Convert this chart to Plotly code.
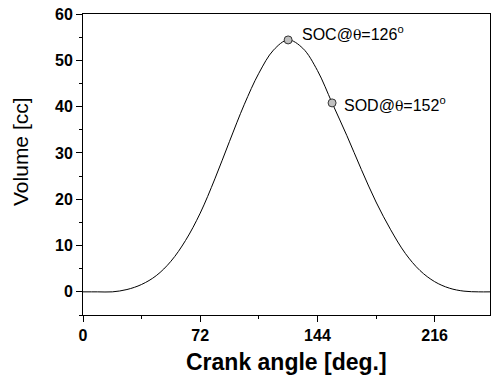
import plotly.graph_objects as go

theta = [0, 9, 18, 27, 36, 45, 54, 63, 72, 81, 90, 99, 108, 117, 126, 135, 144, 153,
         162, 171, 180, 189, 198, 207, 216, 225, 234, 243, 250]
volume = [0, 0, 0, 0.5, 1.6, 3.5, 6.6, 11.1, 17.0, 24.4, 32.5, 40.4, 47.2, 52.2, 54.4,
          52.6, 47.8, 40.8, 33.8, 26.4, 19.4, 13.4, 8.3, 4.6, 2.2, 0.8, 0.15, 0, 0]

event_theta = [126, 153]
event_volume = [54.4, 40.8]
event_names = ["SOC", "SOD"]
event_angles = [126, 152]

x_ticks = [0, 72, 144, 216]
y_ticks = [0, 10, 20, 30, 40, 50, 60]

FONT = "Liberation Sans, Arial"

fig = go.Figure()
fig.add_trace(go.Scatter(x=theta, y=volume, mode="lines",
                         line=dict(color="black", width=1, shape="spline", smoothing=1.0),
                         hoverinfo="skip"))
fig.add_trace(go.Scatter(x=event_theta, y=event_volume, mode="markers",
                         marker=dict(size=8, color="#c0c0c0", line=dict(color="#333333", width=1))))

shifts = [(12, 7), (10, -1)]
for xv, yv, nm, ang, (dx, dy) in zip(event_theta, event_volume, event_names, event_angles, shifts):
    lab = (f"{nm}@<span style='font-family:\"DejaVu Serif\"; font-size:14px'>θ</span>"
           f"={ang}<sup>o</sup>")
    fig.add_annotation(x=xv, y=yv, text=lab, showarrow=False, xanchor="left", yanchor="middle",
                       xshift=dx, yshift=dy, font=dict(family=FONT, size=16, color="black"))

fig.add_annotation(text="<b>Crank angle [deg.]</b>", xref="paper", yref="paper", x=0.5, y=-0.156,
                   yanchor="middle", showarrow=False,
                   font=dict(family=FONT, size=23, color="black"))
fig.add_annotation(text="Volume [cc]", xref="paper", yref="paper", x=-0.152, y=0.542,
                   textangle=-90, xanchor="center", yanchor="middle", showarrow=False,
                   font=dict(family=FONT, size=21, color="black"))

axis_common = dict(showline=True, linecolor="black", linewidth=1, mirror=True,
                   ticks="outside", ticklen=6, tickwidth=1, tickcolor="black",
                   showgrid=False, zeroline=False,
                   tickfont=dict(family=FONT, size=16, color="black"))

fig.update_layout(
    width=491, height=379, margin=dict(l=83, r=1, t=14, b=64),
    paper_bgcolor="white", plot_bgcolor="white", showlegend=False,
    xaxis=dict(range=[0, 250], tickvals=x_ticks, ticktext=[f"<b>{v}</b>" for v in x_ticks],
               minor=dict(tickvals=[36, 108, 180], ticks="outside", ticklen=3, tickcolor="black"),
               **axis_common),
    yaxis=dict(range=[-5, 60], tickvals=y_ticks, ticktext=[f"<b>{v}</b>" for v in y_ticks],
               minor=dict(tickvals=[-5, 5, 15, 25, 35, 45, 55], ticks="outside", ticklen=3, tickcolor="black"),
               **axis_common),
)

fig.write_html("out.html")
